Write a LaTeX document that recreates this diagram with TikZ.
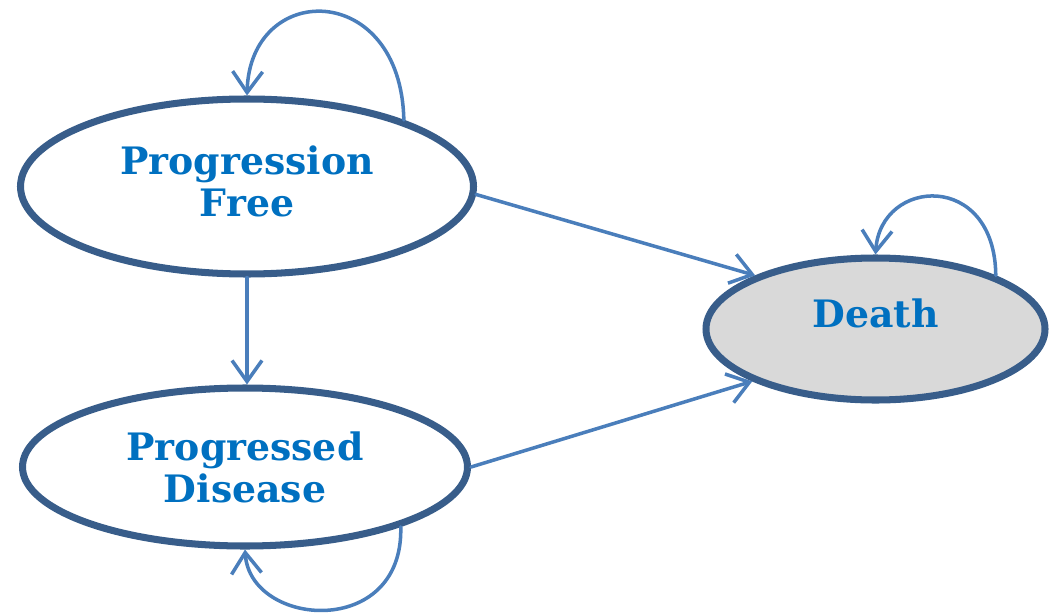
\documentclass[tikz,border=0pt]{standalone}
\usepackage{fontspec}
\newfontfamily\statefont{DejaVu Serif}
\usetikzlibrary{shapes.geometric,arrows.meta}
\definecolor{rimblue}{HTML}{385D8A}
\definecolor{linkblue}{HTML}{4A7EBB}
\definecolor{txtblue}{HTML}{0070C0}
\definecolor{deadgray}{HTML}{D9D9D9}

\begin{document}
\begin{tikzpicture}[
    state/.style={ellipse,draw=rimblue,line width=4pt,inner sep=0pt,align=center,
        text=txtblue,font=\statefont\bfseries\fontsize{21.5}{24}\selectfont},
    link/.style={draw=linkblue,line width=2pt,line cap=round,
        -{Straight Barb[length=4.2mm,width=6mm]}}
]
    \useasboundingbox (0,0) rectangle (21.02,-12.24);
    \node[state,minimum width=9.06cm,minimum height=3.5cm,text depth=0.2cm] (free) at (4.94,-3.73) {Progression\\Free};
    \node[state,minimum width=8.9cm,minimum height=3.16cm] (prog) at (4.9,-9.34) {Progressed\\Disease};
    \node[state,fill=deadgray,minimum width=6.78cm,minimum height=2.84cm,
        text height=0.56cm,text depth=0.62cm] (death) at (17.51,-6.58) {Death};
    \foreach \a/\b in {free.-2/death.156,free.south/free.south |- prog.north,prog.east/death.203}
        \draw[link] (\a) -- (\b);
    \draw[link] (free.23) .. controls +(-0.06,2.8) and +(0.06,2.3) .. (free.north);
    \draw[link] (prog.-21) .. controls +(0.06,-2.26) and +(0.1,-1.56) .. (prog.south);
    \draw[link] (death.24) .. controls +(-0.02,2.1) and +(0.1,1.54) .. (death.north);
\end{tikzpicture}
\end{document}
